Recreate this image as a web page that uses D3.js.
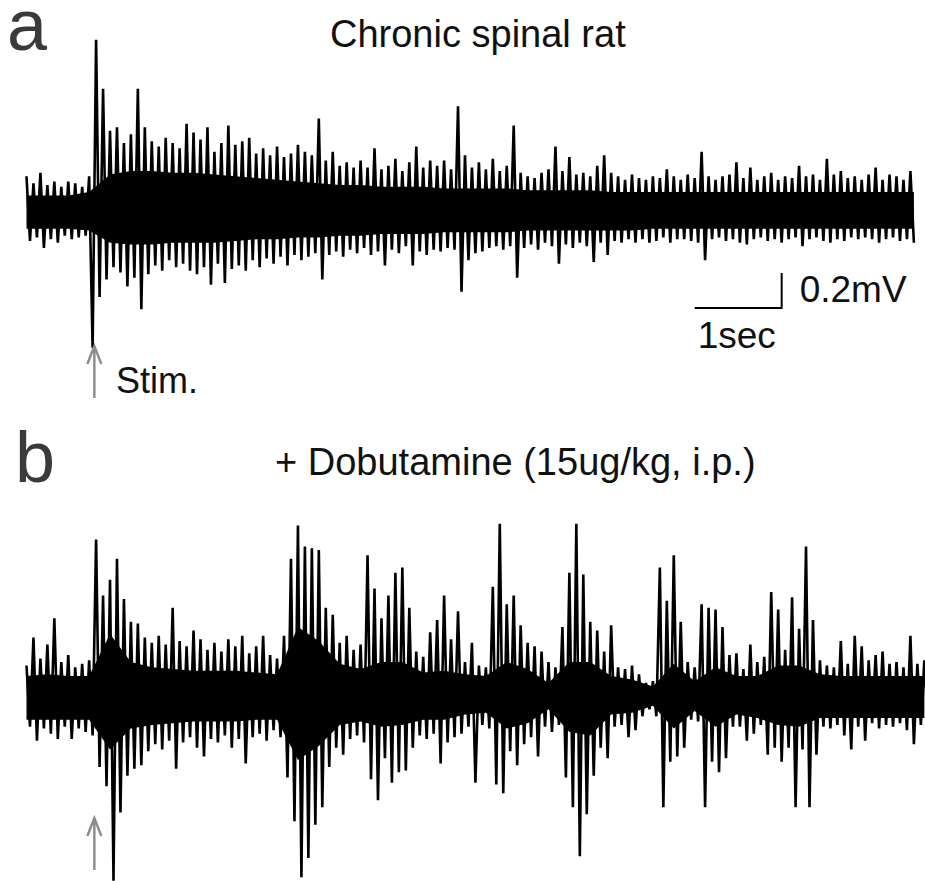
<!DOCTYPE html>
<meta charset="utf-8">
<style>
    body {
        margin: 0;
        background: #fff;
    }

    text {
        font-family: "Liberation Sans", Arial, sans-serif;
        fill: #111;
    }

    .trace {
        fill: none;
        stroke: #000;
        stroke-width: 2.6px;
        stroke-linejoin: bevel;
    }

    .core {
        fill: #000;
    }

    .arrow {
        fill: none;
        stroke: #8c8c8c;
        stroke-width: 2.4px;
    }

    .bar {
        fill: none;
        stroke: #000;
        stroke-width: 2px;
    }
</style>

<body>
    <svg width="925" height="881"></svg>
    <script src="https://d3js.org/d3.v7.min.js"></script>
    <script>
        // sampling of the traces (seconds): up peak at t, down peak half a step later
        const dt = 0.08,
            coreDt = 0.24,
            stimTime = 0.78;

        // a: chronic spinal rat (mV)
        const aUp = [
            0.21, 0.17, 0.23, 0.16, 0.18, 0.15, 0.18, 0.17, 0.15, 0.21,
            0.99, 0.71, 0.47, 0.49, 0.40, 0.45, 0.71, 0.49, 0.41, 0.38,
            0.43, 0.40, 0.37, 0.51, 0.46, 0.42, 0.49, 0.35, 0.40, 0.50,
            0.39, 0.41, 0.43, 0.34, 0.37, 0.33, 0.38, 0.32, 0.34, 0.39,
            0.35, 0.33, 0.54, 0.30, 0.35, 0.27, 0.29, 0.26, 0.30, 0.26,
            0.37, 0.25, 0.27, 0.31, 0.24, 0.29, 0.38, 0.26, 0.30, 0.27,
            0.30, 0.25, 0.61, 0.33, 0.26, 0.29, 0.25, 0.31, 0.24, 0.27,
            0.50, 0.23, 0.21, 0.20, 0.23, 0.25, 0.38, 0.24, 0.32, 0.22,
            0.23, 0.21, 0.27, 0.33, 0.23, 0.21, 0.19, 0.22, 0.20, 0.19,
            0.21, 0.20, 0.25, 0.21, 0.19, 0.22, 0.20, 0.35, 0.21, 0.19,
            0.21, 0.22, 0.29, 0.20, 0.26, 0.19, 0.21, 0.23, 0.19, 0.21,
            0.20, 0.27, 0.21, 0.22, 0.19, 0.31, 0.22, 0.24, 0.20, 0.21,
            0.19, 0.22, 0.26, 0.19, 0.22, 0.21, 0.19, 0.24
        ];
        const aDown = [
            -0.16, -0.14, -0.20, -0.15, -0.17, -0.13, -0.15, -0.14, -0.13, -0.77,
            -0.48, -0.38, -0.31, -0.34, -0.42, -0.37, -0.55, -0.35, -0.30, -0.33,
            -0.27, -0.31, -0.29, -0.33, -0.35, -0.31, -0.41, -0.29, -0.40, -0.32,
            -0.30, -0.33, -0.27, -0.31, -0.26, -0.29, -0.25, -0.30, -0.24, -0.27,
            -0.25, -0.23, -0.38, -0.24, -0.22, -0.25, -0.21, -0.23, -0.20, -0.24,
            -0.22, -0.30, -0.21, -0.23, -0.19, -0.30, -0.22, -0.24, -0.21, -0.22,
            -0.20, -0.21, -0.45, -0.27, -0.23, -0.22, -0.20, -0.19, -0.21, -0.19,
            -0.37, -0.20, -0.18, -0.21, -0.17, -0.19, -0.29, -0.18, -0.20, -0.17,
            -0.19, -0.28, -0.17, -0.24, -0.16, -0.17, -0.15, -0.17, -0.15, -0.17,
            -0.16, -0.14, -0.17, -0.15, -0.15, -0.16, -0.17, -0.27, -0.15, -0.14,
            -0.16, -0.15, -0.17, -0.18, -0.15, -0.14, -0.16, -0.15, -0.17, -0.15,
            -0.14, -0.19, -0.15, -0.14, -0.16, -0.17, -0.15, -0.16, -0.14, -0.15,
            -0.14, -0.15, -0.17, -0.15, -0.14, -0.16, -0.15, -0.17
        ];
        // solid band of the trace, every coreDt
        const aCoreUp = [
            0.10, 0.10, 0.10, 0.12, 0.22, 0.24, 0.24, 0.23, 0.23, 0.22,
            0.21, 0.20, 0.19, 0.18, 0.17, 0.16, 0.16, 0.15, 0.15, 0.15,
            0.14, 0.14, 0.14, 0.14, 0.13, 0.13, 0.13, 0.13, 0.12, 0.12,
            0.12, 0.12, 0.12, 0.12, 0.12, 0.12, 0.12, 0.12, 0.12, 0.12,
            0.12, 0.12, 0.12, 0.12
        ];
        const aCoreDown = [
            -0.09, -0.09, -0.09, -0.10, -0.17, -0.18, -0.18, -0.17, -0.17, -0.17,
            -0.16, -0.15, -0.15, -0.14, -0.14, -0.13, -0.13, -0.12, -0.12, -0.12,
            -0.11, -0.11, -0.11, -0.11, -0.10, -0.10, -0.10, -0.10, -0.10, -0.10,
            -0.09, -0.09, -0.09, -0.09, -0.09, -0.09, -0.09, -0.09, -0.09, -0.09,
            -0.09, -0.09, -0.09, -0.09
        ];

        // b: + dobutamine (mV)
        const bUp = [
            0.18, 0.34, 0.22, 0.30, 0.45, 0.20, 0.24, 0.17, 0.19, 0.21,
            0.90, 0.58, 0.67, 0.79, 0.56, 0.43, 0.42, 0.34, 0.31, 0.35,
            0.30, 0.51, 0.32, 0.29, 0.38, 0.33, 0.27, 0.31, 0.26, 0.33,
            0.29, 0.35, 0.25, 0.29, 0.35, 0.24, 0.22, 0.35, 0.79, 0.98,
            0.86, 0.85, 0.84, 0.51, 0.47, 0.31, 0.35, 0.27, 0.30, 0.81,
            0.62, 0.45, 0.58, 0.71, 0.74, 0.51, 0.26, 0.23, 0.37, 0.44,
            0.58, 0.33, 0.49, 0.20, 0.31, 0.18, 0.17, 0.63, 0.99, 0.53,
            0.58, 0.41, 0.31, 0.29, 0.26, 0.20, 0.17, 0.40, 0.71, 0.99,
            0.70, 0.43, 0.38, 0.26, 0.41, 0.17, 0.16, 0.18, 0.13, 0.08,
            0.09, 0.74, 0.55, 0.81, 0.43, 0.20, 0.17, 0.53, 0.51, 0.50,
            0.40, 0.24, 0.25, 0.16, 0.30, 0.20, 0.23, 0.60, 0.50, 0.27,
            0.57, 0.39, 0.86, 0.44, 0.21, 0.18, 0.17, 0.32, 0.19, 0.35,
            0.29, 0.21, 0.24, 0.26, 0.19, 0.20, 0.17, 0.35, 0.19, 0.21
        ];
        const bDown = [
            -0.17, -0.25, -0.18, -0.21, -0.24, -0.17, -0.24, -0.18, -0.20, -0.22,
            -0.40, -0.51, -1.05, -0.66, -0.45, -0.41, -0.39, -0.31, -0.27, -0.30,
            -0.25, -0.41, -0.26, -0.23, -0.29, -0.34, -0.24, -0.26, -0.22, -0.29,
            -0.24, -0.38, -0.23, -0.21, -0.25, -0.19, -0.23, -0.46, -0.71, -1.03,
            -0.92, -0.73, -0.63, -0.40, -0.29, -0.33, -0.24, -0.22, -0.26, -0.47,
            -0.59, -0.35, -0.49, -0.43, -0.42, -0.29, -0.22, -0.24, -0.21, -0.38,
            -0.26, -0.23, -0.21, -0.17, -0.49, -0.16, -0.18, -0.50, -0.55, -0.31,
            -0.39, -0.27, -0.23, -0.34, -0.17, -0.20, -0.16, -0.46, -0.63, -0.91,
            -0.67, -0.45, -0.29, -0.35, -0.17, -0.16, -0.23, -0.19, -0.11, -0.07,
            -0.11, -0.63, -0.37, -0.34, -0.29, -0.13, -0.14, -0.63, -0.37, -0.43,
            -0.35, -0.17, -0.17, -0.25, -0.21, -0.16, -0.33, -0.29, -0.37, -0.29,
            -0.63, -0.30, -0.63, -0.33, -0.17, -0.18, -0.16, -0.22, -0.30, -0.17,
            -0.25, -0.15, -0.18, -0.16, -0.17, -0.15, -0.19, -0.27, -0.16, -0.17
        ];
        const bCoreUp = [
            0.12, 0.13, 0.12, 0.12, 0.36, 0.20, 0.17, 0.16, 0.15, 0.15,
            0.15, 0.14, 0.13, 0.40, 0.32, 0.19, 0.16, 0.20, 0.20, 0.14,
            0.15, 0.13, 0.12, 0.20, 0.16, 0.08, 0.20, 0.20, 0.12, 0.10,
            0.06, 0.19, 0.09, 0.17, 0.12, 0.12, 0.18, 0.18, 0.13, 0.12,
            0.12, 0.12, 0.12, 0.12
        ];
        const bCoreDown = [
            -0.13, -0.13, -0.13, -0.13, -0.30, -0.18, -0.16, -0.15, -0.14, -0.14,
            -0.14, -0.13, -0.13, -0.36, -0.28, -0.16, -0.14, -0.17, -0.16, -0.13,
            -0.13, -0.10, -0.09, -0.18, -0.15, -0.07, -0.20, -0.22, -0.10, -0.09,
            -0.05, -0.18, -0.08, -0.17, -0.10, -0.12, -0.16, -0.17, -0.12, -0.12,
            -0.12, -0.12, -0.12, -0.12
        ];

        const panelLabels = ["a", "b"];
        const titles = ["Chronic spinal rat", "+ Dobutamine (15ug/kg, i.p.)"];
        const barSec = 1,
            barMv = 0.2;

        const width = 925,
            height = 881;

        const svg = d3.select("svg");
        svg.append("rect").attr("width", width).attr("height", height).attr("fill", "#fff");

        // 1 sec = 87 px, 0.2 mV = 35 px
        const x = d3.scaleLinear().domain([0, 10]).range([26.5, 896.5]);
        const yA = d3.scaleLinear().domain([-1, 1]).range([388, 38]);
        const yB = d3.scaleLinear().domain([-1, 1]).range([872, 522]);

        function drawTrace(up, down, coreUp, coreDown, y, id) {
            const end = (up.length - 1) * dt + dt / 2;
            svg.append("clipPath").attr("id", id)
                .append("rect")
                .attr("x", x(0) - 2).attr("y", 0)
                .attr("width", x(end) - x(0) + 2).attr("height", height);

            const core = coreUp.map((v, k) => ({ t: k * coreDt, hi: v, lo: coreDown[k] }));
            svg.append("path")
                .datum(core)
                .attr("class", "core")
                .attr("clip-path", "url(#" + id + ")")
                .attr("d", d3.area()
                    .x(d => x(d.t))
                    .y0(d => y(d.lo))
                    .y1(d => y(d.hi)));

            const pts = up.flatMap((v, i) => [[i * dt, v], [i * dt + dt / 2, down[i]]]);
            svg.append("path")
                .datum(pts)
                .attr("class", "trace")
                .attr("d", d3.line()
                    .x(d => x(d[0]))
                    .y(d => y(d[1])));
        }

        drawTrace(aUp, aDown, aCoreUp, aCoreDown, yA, "clipA");
        drawTrace(bUp, bDown, bCoreUp, bCoreDown, yB, "clipB");

        // stimulus arrows
        function arrow(tipY, tailY) {
            const ax = x(stimTime);
            svg.append("path")
                .attr("class", "arrow")
                .attr("d", "M" + ax + "," + tailY + "V" + tipY +
                    "M" + (ax - 7) + "," + (tipY + 18) + "L" + ax + "," + tipY + "L" + (ax + 7) + "," + (tipY + 18));
        }
        arrow(346, 398);
        arrow(818, 870);

        svg.append("text")
            .attr("x", 116).attr("y", 393)
            .style("font-size", "36px")
            .text("Stim.");

        // scale bar, drawn in panel a's units
        const barT = 7.68,
            barV = -0.543;
        svg.append("path")
            .attr("class", "bar")
            .attr("d", "M" + x(barT) + "," + yA(barV) +
                "H" + x(barT + barSec) +
                "V" + yA(barV + barMv));

        svg.append("text")
            .attr("x", x(barT + barSec) + 18).attr("y", 302)
            .style("font-size", "37px")
            .text(barMv + "mV");

        svg.append("text")
            .attr("x", x(barT) + 3).attr("y", 348)
            .style("font-size", "37px")
            .text(barSec + "sec");

        // panel letters and titles
        svg.selectAll(".panel")
            .data(panelLabels)
            .enter().append("text")
            .attr("class", "panel")
            .attr("x", (d, i) => i ? 15 : 7)
            .attr("y", (d, i) => i ? 482 : 50)
            .style("font-size", "72px")
            .style("fill", "#3a3a3a")
            .text(d => d);

        svg.selectAll(".title")
            .data(titles)
            .enter().append("text")
            .attr("class", "title")
            .attr("x", (d, i) => i ? 275 : 330)
            .attr("y", (d, i) => i ? 475 : 47)
            .style("font-size", "38px")
            .text(d => d);
    </script>
</body>
